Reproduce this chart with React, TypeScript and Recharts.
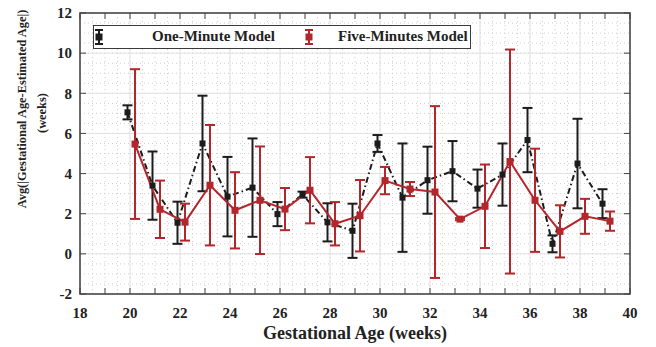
import {
  ComposedChart,
  Line,
  ErrorBar,
  XAxis,
  YAxis,
  CartesianGrid,
  ReferenceArea,
  Label,
} from 'recharts';

const weeks = [20, 21, 22, 23, 24, 25, 26, 27, 28, 29, 30, 31, 32, 33, 34, 35, 36, 37, 38, 39];

const oneMinuteMean = [7.05, 3.4, 1.55, 5.5, 2.85, 3.3, 1.98, 2.95, 1.57, 1.15, 5.5, 2.8, 3.67, 4.12, 3.25, 3.95, 5.67, 0.5, 4.5, 2.5];
const oneMinuteErr = [0.35, 1.7, 1.05, 2.38, 1.98, 2.45, 0.6, 0.15, 0.95, 1.35, 0.42, 2.7, 1.67, 1.5, 0.95, 1.55, 1.6, 0.42, 2.23, 0.72];

const fiveMinutesMean = [5.47, 2.22, 1.58, 3.42, 2.17, 2.67, 2.23, 3.17, 1.5, 1.9, 3.65, 3.23, 3.08, 1.73, 2.37, 4.6, 2.67, 1.12, 1.87, 1.63];
const fiveMinutesErr = [3.73, 1.43, 0.92, 3.0, 1.9, 2.68, 1.05, 1.65, 1.08, 1.78, 0.68, 0.35, 4.28, 0.05, 2.08, 5.58, 2.57, 1.3, 0.87, 0.48];

const xTicks = [18, 19, 20, 21, 22, 23, 24, 25, 26, 27, 28, 29, 30, 31, 32, 33, 34, 35, 36, 37, 38, 39, 40];
const xLabels = [18, 20, 22, 24, 26, 28, 30, 32, 34, 36, 38, 40];
const yTicks = [-2, 0, 2, 4, 6, 8, 10, 12];

const X_DOMAIN: [number, number] = [18, 40];
const Y_DOMAIN: [number, number] = [-2, 12];

// small horizontal shift so the two series don't sit on top of each other
const ONE_MIN_SHIFT = -0.1;
const FIVE_MIN_SHIFT = 0.2;

const BLACK = '#1c1c1c';
const RED = '#b3262c';
const FONT = '"Liberation Serif", "Times New Roman", serif';

const W = 640;
const H = 344;
const MARGIN = { top: 10, right: 18, left: 32, bottom: 23 };
const Y_AXIS_W = 40;
const X_AXIS_H = 30;
const PLOT_TOP = MARGIN.top;
const PLOT_BOTTOM = H - MARGIN.bottom - X_AXIS_H;
const PLOT_LEFT = MARGIN.left + Y_AXIS_W;
const PLOT_RIGHT = W - MARGIN.right;
const TICK_LEN = 6;

const oneMinuteData = weeks.map((w, i) => ({
  x: w + ONE_MIN_SHIFT,
  y: oneMinuteMean[i],
  err: oneMinuteErr[i],
}));

const fiveMinutesData = weeks.map((w, i) => ({
  x: w + FIVE_MIN_SHIFT,
  y: fiveMinutesMean[i],
  err: fiveMinutesErr[i],
}));

const minorSteps = (lo: number, hi: number, step: number) => {
  const out: number[] = [];
  for (let v = lo + step; v < hi - 1e-9; v += step) out.push(v);
  return out;
};

const toPx = (v: number, dom: [number, number], a: number, b: number) =>
  a + ((v - dom[0]) / (dom[1] - dom[0])) * (b - a);

const XTick = (props: any) => {
  const { x, payload } = props;
  const v = payload.value;
  return (
    <g>
      <line x1={x} x2={x} y1={PLOT_BOTTOM} y2={PLOT_BOTTOM - TICK_LEN} stroke="#444" strokeWidth={1} />
      <line x1={x} x2={x} y1={PLOT_TOP} y2={PLOT_TOP + TICK_LEN} stroke="#444" strokeWidth={1} />
      {xLabels.includes(v) && (
        <text x={x} y={PLOT_BOTTOM + 24} textAnchor="middle" fontFamily={FONT} fontWeight="bold" fontSize={15} fill="#222">
          {v}
        </text>
      )}
    </g>
  );
};

const YTick = (props: any) => {
  const { y, payload } = props;
  return (
    <g>
      <line x1={PLOT_LEFT} x2={PLOT_LEFT + TICK_LEN} y1={y} y2={y} stroke="#444" strokeWidth={1} />
      <line x1={PLOT_RIGHT} x2={PLOT_RIGHT - TICK_LEN} y1={y} y2={y} stroke="#444" strokeWidth={1} />
      <text x={PLOT_LEFT - 8} y={y} dy="0.35em" textAnchor="end" fontFamily={FONT} fontWeight="bold" fontSize={15} fill="#222">
        {payload.value}
      </text>
    </g>
  );
};

const squareDot = (color: string, size: number) => (p: any) => (
  <rect key={`d-${p.index}`} x={p.cx - size / 2} y={p.cy - size / 2} width={size} height={size} fill={color} />
);

const LegendIcon = ({ color }: { color: string }) => (
  <svg width={10} height={16} style={{ position: 'absolute', top: 3 }}>
    <line x1={5} x2={5} y1={1} y2={15} stroke={color} strokeWidth={2} />
    <line x1={1} x2={9} y1={1} y2={1} stroke={color} strokeWidth={2} />
    <line x1={1} x2={9} y1={15} y2={15} stroke={color} strokeWidth={2} />
    <rect x={1.5} y={4.5} width={7} height={7} fill={color} />
  </svg>
);

export default function App() {
  const minorX = minorSteps(X_DOMAIN[0], X_DOMAIN[1], 0.5);
  const minorY = minorSteps(Y_DOMAIN[0], Y_DOMAIN[1], 0.5);
  const majorX = xLabels.slice(1, -1);
  const majorY = yTicks.slice(1, -1);

  return (
    <div style={{ position: 'relative', width: W, height: H, marginTop: -5 }}>
      <ComposedChart width={W} height={H} margin={MARGIN} style={{ background: '#fff' }}>
        <CartesianGrid
          stroke="#cfcfcf"
          strokeDasharray="1 3"
          verticalCoordinatesGenerator={() => minorX.map((v) => toPx(v, X_DOMAIN, PLOT_LEFT, PLOT_RIGHT))}
          horizontalCoordinatesGenerator={() => minorY.map((v) => toPx(v, Y_DOMAIN, PLOT_BOTTOM, PLOT_TOP))}
        />
        <CartesianGrid
          stroke="#e2e2e2"
          strokeWidth={1}
          verticalCoordinatesGenerator={() => majorX.map((v) => toPx(v, X_DOMAIN, PLOT_LEFT, PLOT_RIGHT))}
          horizontalCoordinatesGenerator={() => majorY.map((v) => toPx(v, Y_DOMAIN, PLOT_BOTTOM, PLOT_TOP))}
        />
        <XAxis
          type="number"
          dataKey="x"
          domain={X_DOMAIN}
          ticks={xTicks}
          interval={0}
          allowDataOverflow
          height={X_AXIS_H}
          tickSize={0}
          tickMargin={0}
          axisLine={false}
          tickLine={false}
          tick={<XTick />}
        >
          <Label
            content={() => (
              <text x={(PLOT_LEFT + PLOT_RIGHT) / 2} y={PLOT_BOTTOM + 45} textAnchor="middle" fontFamily={FONT} fontWeight="bold" fontSize={18} fill="#222">
                Gestational Age (weeks)
              </text>
            )}
          />
        </XAxis>
        <YAxis
          type="number"
          domain={Y_DOMAIN}
          ticks={yTicks}
          interval={0}
          allowDataOverflow
          width={Y_AXIS_W}
          tickSize={0}
          axisLine={false}
          tickLine={false}
          tick={<YTick />}
        >
          <Label
            content={() => (
              <g fontFamily={FONT} fontWeight="bold" fontSize={12.4} fill="#222" textAnchor="middle">
                <text transform="translate(14,106) rotate(-90)" dy="0.35em">
                  Avg(|Gestational Age-Estimated Age|)
                </text>
                <text transform="translate(34,110) rotate(-90)" dy="0.35em">
                  (weeks)
                </text>
              </g>
            )}
          />
        </YAxis>
        <ReferenceArea x1={18} x2={40} y1={-2} y2={12} fill="none" stroke="#3a3a3a" strokeWidth={1.5} ifOverflow="visible" />
        <Line
          data={oneMinuteData}
          dataKey="y"
          type="linear"
          stroke={BLACK}
          strokeWidth={2}
          strokeDasharray="6 3 1.5 3"
          dot={squareDot(BLACK, 6)}
          activeDot={false}
          isAnimationActive={false}
        >
          <ErrorBar dataKey="err" direction="y" width={5} stroke={BLACK} strokeWidth={2} isAnimationActive={false} />
        </Line>
        <Line
          data={fiveMinutesData}
          dataKey="y"
          type="linear"
          stroke={RED}
          strokeWidth={2}
          dot={squareDot(RED, 7)}
          activeDot={false}
          isAnimationActive={false}
        >
          <ErrorBar dataKey="err" direction="y" width={5} stroke={RED} strokeWidth={2} isAnimationActive={false} />
        </Line>
      </ComposedChart>

      <div
        style={{
          position: 'absolute',
          left: 85,
          top: 22,
          width: 376,
          height: 22,
          border: '1.5px solid #3a3a3a',
          background: '#fff',
          fontFamily: FONT,
          fontWeight: 'bold',
          fontSize: 15,
          color: '#222',
        }}
      >
        <LegendIcon color={BLACK} />
        <span style={{ position: 'absolute', left: 58, top: 2, whiteSpace: 'nowrap' }}>One-Minute Model</span>
        <div style={{ position: 'absolute', left: 210, top: 0 }}>
          <LegendIcon color={RED} />
        </div>
        <span style={{ position: 'absolute', left: 244, top: 2, whiteSpace: 'nowrap' }}>Five-Minutes Model</span>
      </div>
    </div>
  );
}
